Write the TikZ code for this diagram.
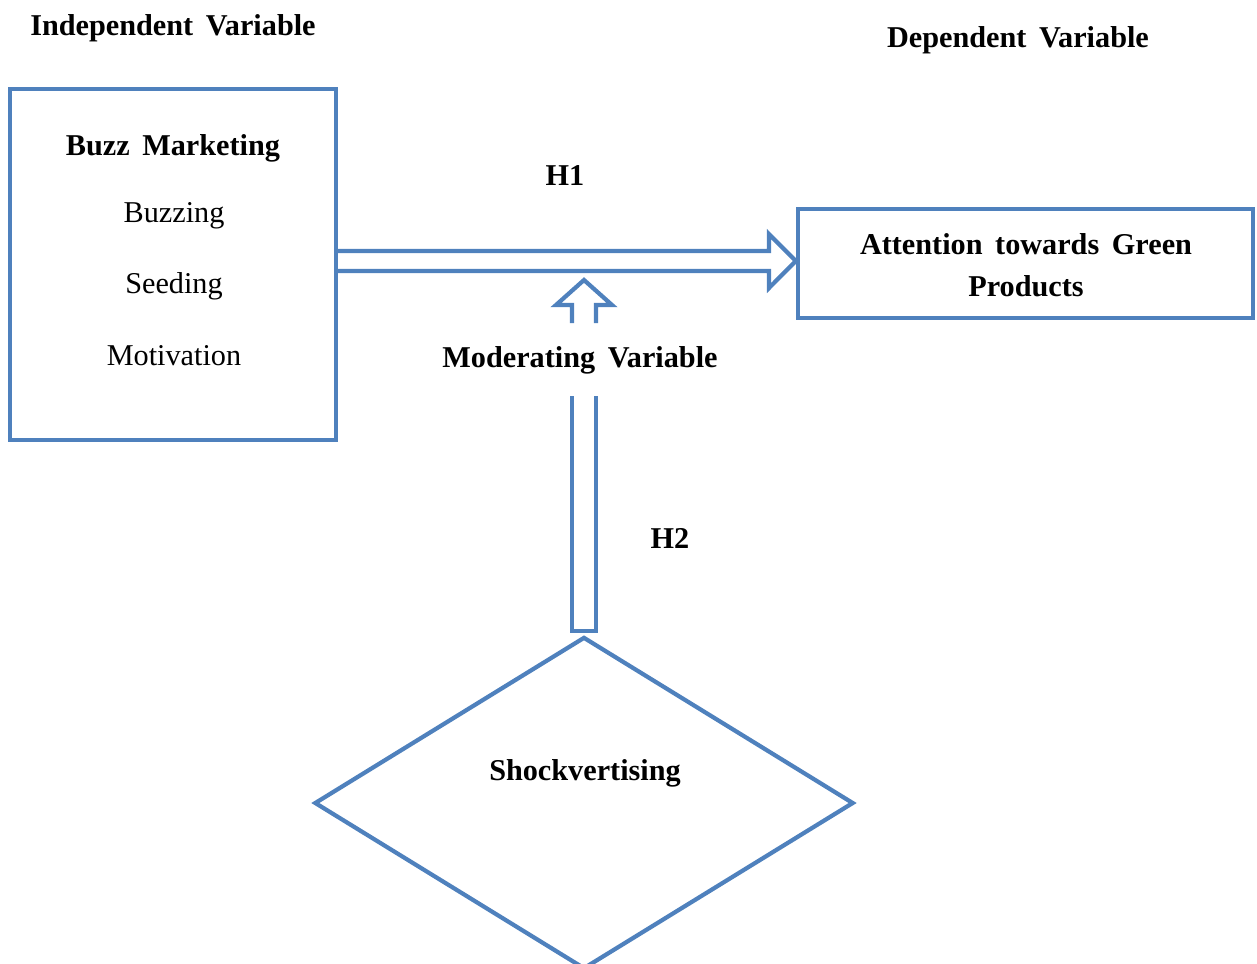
\documentclass[tikz,border=0pt]{standalone}
\usepackage{fontspec}
\setmainfont{Liberation Serif}
\usetikzlibrary{shapes.geometric}
\definecolor{officeblue}{RGB}{79,129,189}

\begin{document}
\begin{tikzpicture}[
		x=0.025cm, y=-0.025cm,
		every node/.style={font=\fontsize{21.5}{30}\selectfont},
		heading/.style={font=\fontsize{21.5}{30}\selectfont\bfseries},
		box/.style={rectangle,draw=officeblue,line width=3pt},
		blockarrow/.style={draw=officeblue,line width=3pt,line join=miter}
	]
	\useasboundingbox (0,0) rectangle (1257,963);

	\node[heading] (indep) at (173,28) {Independent\, Variable};
	\node[heading] (dep) at (1018,40) {Dependent\, Variable};

	\node[box,minimum width=8.15cm,minimum height=8.775cm] (buzz) at (173,264.5) {};
	\node[heading] (buzztitle) at (173,148) {Buzz\, Marketing};
	\node (buzzing) at (174,216) {Buzzing};
	\node (seeding) at (174,286) {Seeding};
	\node (motiv) at (174,356) {Motivation};

	\node[box,minimum width=11.375cm,minimum height=2.725cm] (attn) at (1025.5,263.5) {};
	\node[heading,align=center] (attntext) at (1026,265) {Attention\, towards\, Green\\Products};

	\node[heading] (h1) at (565,176) {H1};
	\node[heading] (mod) at (580,360) {Moderating\, Variable};
	\node[heading] (h2) at (670,538) {H2};

	\node[diamond,draw=officeblue,line width=3pt,minimum width=13.475cm,minimum height=8.3cm] (shock) at (584,803) {};
	\node[heading] (shocktext) at (585,773) {Shockvertising};

	% H1 arrow
	\draw[blockarrow] (buzz.east |- 0,251) -- (769,251) -- (769,234) -- (attn.west |- 0,261)
		-- (769,288) -- (769,271) -- (buzz.east |- 0,271);

	% H2 arrow, split by the label
	\draw[blockarrow] (572,323) -- (572,305) -- (556,305) -- (584,280) -- (612,305) -- (596,305) -- (596,323);
	\draw[blockarrow] (572,396) -- (572,631) -- (596,631) -- (596,396);
\end{tikzpicture}
\end{document}
